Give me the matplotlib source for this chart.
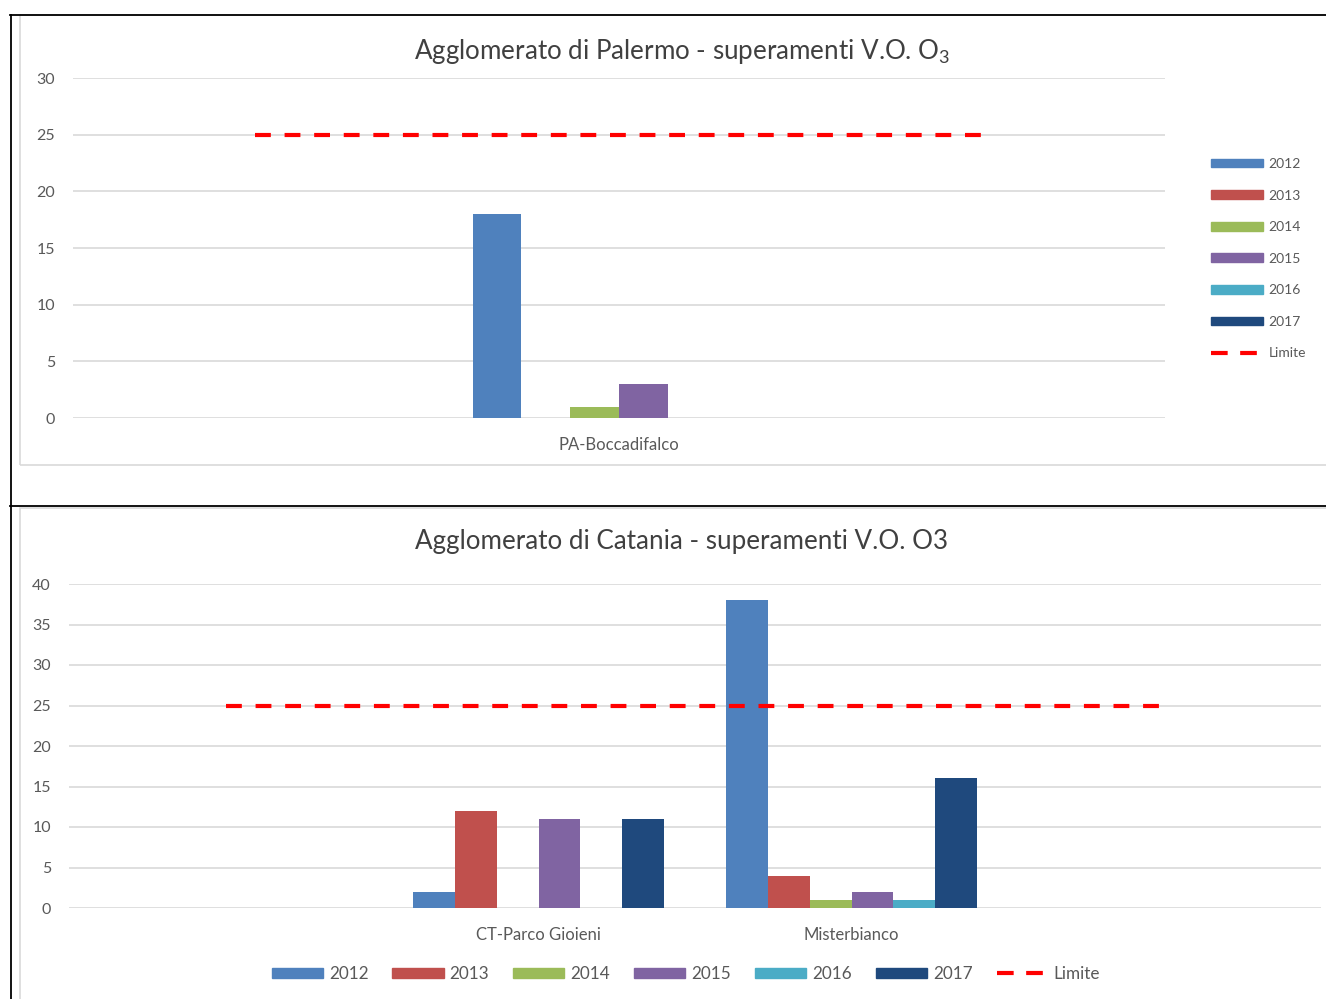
import matplotlib.pyplot as plt
import numpy as np
from matplotlib.patches import Patch, Rectangle
from matplotlib.lines import Line2D

plt.rcParams['font.family'] = ['Lato', 'DejaVu Sans']
plt.rcParams['mathtext.fontset'] = 'custom'
plt.rcParams['mathtext.rm'] = 'Lato'

# dati
anni = ['2012', '2013', '2014', '2015', '2016', '2017']
colori = ['#4F81BD', '#C0504D', '#9BBB59', '#8064A2', '#4BACC6', '#1F497D']

pa_stazioni = ['', 'PA-Boccadifalco', '']
pa_valori = [[0, 18, 0], [0, 0, 0], [0, 1, 0], [0, 3, 0], [0, 0, 0], [0, 0, 0]]
pa_limite = [25, 25, 25]

ct_stazioni = ['', 'CT-Parco Gioieni', 'Misterbianco', '']
ct_valori = [[0, 2, 38, 0], [0, 12, 4, 0], [0, 0, 1, 0], [0, 11, 2, 0], [0, 0, 1, 0], [0, 11, 16, 0]]
ct_limite = [25, 25, 25, 25]

W, H = 1326, 999
grigio = '#595959'
griglia = '#D9D9D9'


def fx(x):
    return x / W


def fy(y):
    return 1 - y / H


fig = plt.figure(figsize=(W / 100, H / 100), dpi=100)

# cornici
fig.add_artist(Rectangle((fx(20), fy(465)), fx(1330 - 20), fy(15) - fy(465),
                         transform=fig.transFigure, fill=False, ec=griglia, lw=1.2))
fig.add_artist(Rectangle((fx(20), fy(1005)), fx(1330 - 20), fy(508) - fy(1005),
                         transform=fig.transFigure, fill=False, ec=griglia, lw=1.2))
for xs, ys in [([10, 1326], [15, 15]), ([11, 11], [15, 999]), ([10, 1326], [506, 506])]:
    fig.add_artist(Line2D([fx(v) for v in xs], [fy(v) for v in ys],
                          transform=fig.transFigure, color='black', lw=1.3))


def grafico(ax, stazioni, valori, limite, ymax, passo):
    x = np.arange(len(stazioni))
    w = 0.134
    for i, (anno, col) in enumerate(zip(anni, colori)):
        ax.bar(x + (i - 2.5) * w, valori[i], width=w, color=col, label=anno, lw=0)
    ax.plot(x, limite, color='#FF0000', lw=3, dashes=(3.8, 3.3), label='Limite')
    ax.set_xlim(-0.5, len(stazioni) - 0.5)
    ax.set_ylim(0, ymax)
    ax.set_yticks(np.arange(0, ymax + 1, passo))
    ax.set_xticks(x, stazioni)
    ax.yaxis.grid(True, color=griglia, lw=1.2)
    ax.set_axisbelow(True)
    for s in ax.spines.values():
        s.set_visible(False)
    ax.tick_params(axis='y', length=0, pad=13, labelsize=11.5, labelcolor=grigio)
    ax.tick_params(axis='x', length=0, pad=14, labelsize=12, labelcolor=grigio)


ax1 = fig.add_axes([fx(73), fy(418), fx(1165 - 73), fy(78) - fy(418)])
grafico(ax1, pa_stazioni, pa_valori, pa_limite, 30, 5)

ax2 = fig.add_axes([fx(69), fy(908), fx(1321 - 69), fy(584) - fy(908)])
grafico(ax2, ct_stazioni, ct_valori, ct_limite, 40, 5)

fig.text(fx(682), fy(51), r'Agglomerato di Palermo - superamenti V.O. O$_{\mathrm{3}}$',
         ha='center', va='center', fontsize=18.7, color='#404040')
fig.text(fx(682), fy(542), 'Agglomerato di Catania - superamenti V.O. O3',
         ha='center', va='center', fontsize=18.7, color='#404040')

maniglie = [Patch(color=c, label=a) for a, c in zip(anni, colori)]
maniglie.append(Line2D([], [], color='#FF0000', lw=3, dashes=(4, 3), label='Limite'))

fig.legend(handles=maniglie, loc='upper left', bbox_to_anchor=(fx(1204), fy(151)),
           frameon=False, fontsize=10, handlelength=3.75, handleheight=0.6,
           handletextpad=0.4, labelspacing=1.41, borderpad=0, labelcolor=grigio)
fig.legend(handles=maniglie, loc='center', bbox_to_anchor=(fx(686), fy(974)), ncol=7,
           frameon=False, fontsize=12.3, handlelength=3.0, handleheight=0.6,
           handletextpad=0.35, columnspacing=1.4, borderpad=0, labelcolor=grigio)

fig.savefig('out.png', dpi=100)
